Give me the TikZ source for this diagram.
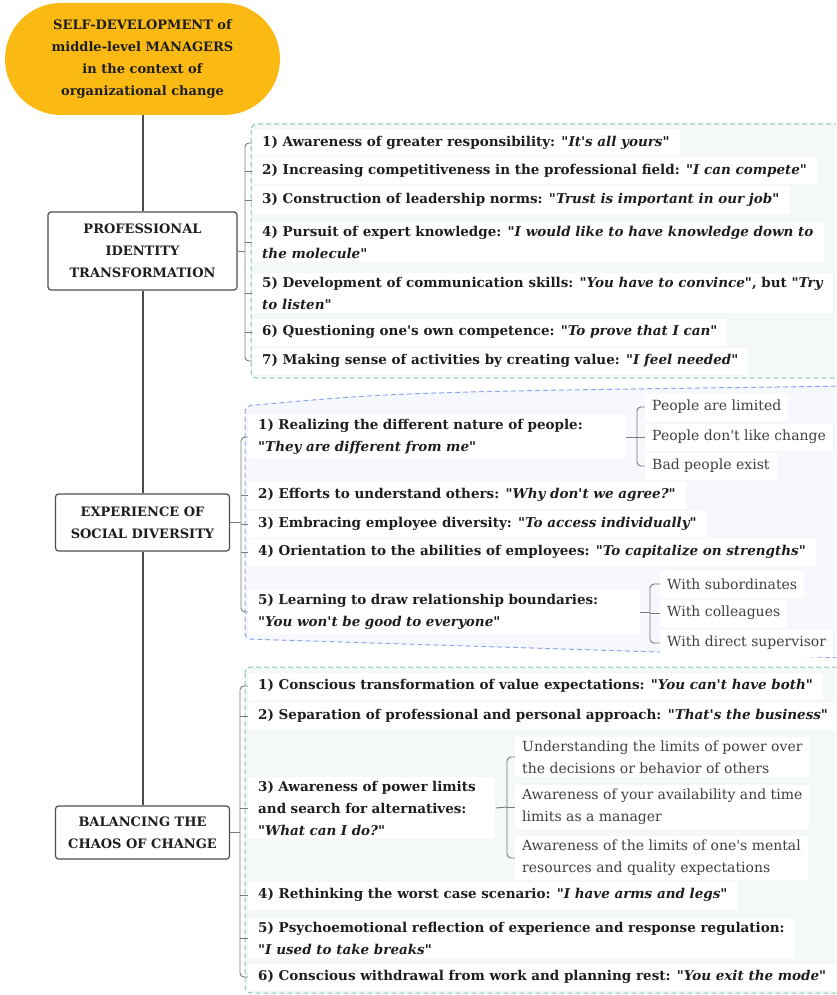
\documentclass[tikz,border=0pt]{standalone}
\usepackage{fontspec}
\setmainfont{DejaVu Serif}[Ligatures=TeXOff]
\usepackage{tikz}
\usetikzlibrary{positioning}

\definecolor{rootfill}{HTML}{FBBA13}
\definecolor{trunkgray}{HTML}{4D4D4D}
\definecolor{bracegray}{HTML}{7A7A7A}
\definecolor{greendash}{HTML}{86C8AC}
\definecolor{greenpanel}{HTML}{F4F8F6}
\definecolor{bluedash}{HTML}{8FA5F4}
\definecolor{bluepanel}{HTML}{F6F8FE}
\definecolor{ink}{HTML}{1E1E1E}

\begin{document}
\begin{tikzpicture}[x=1pt,y=-1pt]
        \tikzstyle{every node}=[font=\fontsize{13.5}{22}\selectfont, text=ink]
        \tikzstyle{topic}=[draw=trunkgray, line width=1.2pt, rounded corners=3pt, fill=white, align=center, font=\fontsize{13}{22}\selectfont\bfseries]
        \tikzstyle{item}=[fill=white, anchor=west, align=left, inner xsep=10pt, inner ysep=4pt, minimum height=27pt, font=\fontsize{13.5}{22}\selectfont\bfseries]
        \tikzstyle{sub}=[fill=white, anchor=west, align=left, inner xsep=7pt, inner ysep=4pt, minimum height=27pt, text=ink!85, font=\fontsize{14}{22}\selectfont]
        \tikzstyle{trunk}=[draw=trunkgray, line width=2pt]
        \tikzstyle{brace}=[draw=bracegray, line width=0.9pt, rounded corners=4pt]
        \tikzstyle{panel}=[line width=1pt, dash pattern=on 5pt off 3pt, rounded corners=6pt]

        \clip (0,0) rectangle (836,995);

        % boundaries
        \draw[panel, draw=greendash, fill=greenpanel] (251,124) rectangle (850,378);
        \draw[panel, draw=bluedash, fill=bluepanel] (850,386) .. controls (400,392) .. (245,406) -- (245,639) -- (850,658) -- cycle;
        \draw[panel, draw=greendash, fill=greenpanel] (245,667) rectangle (850,993);

        % main topics
        \node (root) [fill=rootfill, rounded corners=56pt, minimum width=275pt, minimum height=112pt, align=center, font=\fontsize{13}{22}\selectfont\bfseries] at (142.5,59) {SELF-DEVELOPMENT of\\middle-level MANAGERS\\in the context of\\organizational change};
        \node (pit) [topic, minimum width=189pt, minimum height=78pt] at (142.5,251) {PROFESSIONAL\\IDENTITY\\TRANSFORMATION};
        \node (esd) [topic, minimum width=174pt, minimum height=57pt] at (142.5,522.5) {EXPERIENCE OF\\SOCIAL DIVERSITY};
        \node (bcc) [topic, minimum width=174pt, minimum height=53pt] at (142.5,832.5) {BALANCING THE\\CHAOS OF CHANGE};

        \draw[trunk] (root) -- (pit);
        \draw[trunk] (pit) -- (esd);
        \draw[trunk] (esd) -- (bcc);

        % professional identity transformation
        \node (p1) [item] at (252,143) {1) Awareness of greater responsibility: \textit{"It's all yours"}};
        \node (p2) [item] at (252,171) {2) Increasing competitiveness in the professional field: "\textit{I can compete"}};
        \node (p3) [item] at (252,200) {3) Construction of leadership norms: \textit{"Trust is important in our job"}};
        \node (p4) [item] at (252,242) {4) Pursuit of expert knowledge: \textit{"I would like to have knowledge down to}\\\textit{the molecule"}};
        \node (p5) [item] at (252,293) {5) Development of communication skills: "\textit{You have to convince"}, but \textit{"Try}\\\textit{to listen"}};
        \node (p6) [item] at (252,332) {6) Questioning one's own competence: "\textit{To prove that I can"}};
        \node (p7) [item] at (252,361) {7) Making sense of activities by creating value: "\textit{I feel needed"}};

        \coordinate (b1) at (245,251);
        \draw[brace] (pit) -- (b1);
        \draw[brace] (p1.west) -| (b1) |- (p7.west);
        \foreach \n in {2,...,6}
            \draw[brace] (p\n.west -| b1) -- (p\n.west);

        % experience of social diversity
        \node (d1) [item, text width=358pt] at (248,437) {1) Realizing the different nature of people:\\\textit{"They are different from me"}};
        \node (d2) [item] at (248,495) {2) Efforts to understand others: \textit{"Why don't we agree?"}};
        \node (d3) [item] at (248,524) {3) Embracing employee diversity: "\textit{To access individually"}};
        \node (d4) [item] at (248,552) {4) Orientation to the abilities of employees: \textit{"To capitalize on strengths"}};
        \node (d5) [item, text width=372pt] at (248,612) {5) Learning to draw relationship boundaries:\\\textit{"You won't be good to everyone"}};

        \node (d1a) [sub] at (645,407) {People are limited};
        \node (d1b) [sub] at (645,437) {People don't like change};
        \node (d1c) [sub] at (645,466) {Bad people exist};
        \node (d5a) [sub] at (660,584) {With subordinates};
        \node (d5b) [sub] at (660,613) {With colleagues};
        \node (d5c) [sub] at (660,643) {With direct supervisor};

        \coordinate (b2) at (241,522.5);
        \draw[brace] (esd) -- (b2);
        \draw[brace] (d1.west) -| (b2) |- (d5.west);
        \foreach \n in {2,...,4}
            \draw[brace] (d\n.west -| b2) -- (d\n.west);

        \coordinate (s1) at (637,437);
        \draw[brace] (d1.east) -- (s1);
        \draw[brace] (d1a.west) -| (s1) |- (d1c.west);
        \draw[brace] (d1b.west -| s1) -- (d1b.west);

        \coordinate (s5) at (650,612);
        \draw[brace] (d5.east) -- (s5);
        \draw[brace] (d5a.west) -| (s5) |- (d5c.west);
        \draw[brace] (d5b.west -| s5) -- (d5b.west);

        % balancing the chaos of change
        \node (c1) [item] at (248,686) {1) Conscious transformation of value expectations: "\textit{You can't have both"}};
        \node (c2) [item] at (248,716) {2) Separation of professional and personal approach: \textit{"That's the business"}};
        \node (c3) [item, text width=227pt] at (248,808) {3) Awareness of power limits\\and search for alternatives:\\\textit{"What can I do?"}};
        \node (c4) [item] at (248,895) {4) Rethinking the worst case scenario: "\textit{I have arms and legs"}};
        \node (c5) [item] at (248,938) {5) Psychoemotional reflection of experience and response regulation:\\\textit{"I used to take breaks"}};
        \node (c6) [item] at (248,977) {6) Conscious withdrawal from work and planning rest: "\textit{You exit the mode"}};

        \node (c3a) [sub] at (515,757) {Understanding the limits of power over\\the decisions or behavior of others};
        \node (c3b) [sub] at (515,807) {Awareness of your availability and time\\limits as a manager};
        \node (c3c) [sub] at (515,858) {Awareness of the limits of one's mental\\resources and quality expectations};

        \coordinate (b3) at (240,832.5);
        \draw[brace] (bcc) -- (b3);
        \draw[brace] (c1.west) -| (b3) |- (c6.west);
        \foreach \n in {2,...,5}
            \draw[brace] (c\n.west -| b3) -- (c\n.west);

        \coordinate (s3) at (507,807);
        \draw[brace] (c3.east) -- (s3);
        \draw[brace] (c3a.west) -| (s3) |- (c3c.west);
        \draw[brace] (c3b.west -| s3) -- (c3b.west);
\end{tikzpicture}
\end{document}
